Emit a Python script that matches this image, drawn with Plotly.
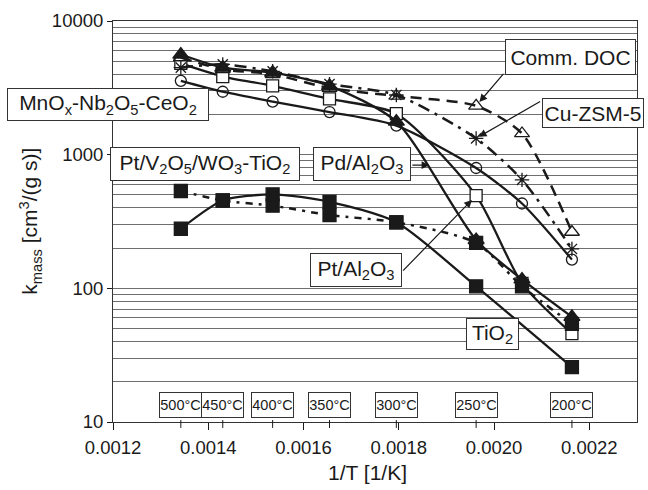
import math
import plotly.graph_objects as go

# 1/T positions of the measured temperatures [1/K]
inv_T = [0.0013424, 0.0014304, 0.0015351, 0.0016545, 0.0017948, 0.0019623, 0.0020586, 0.0021634]

# mass-specific rate constants k_mass [cm^3/(g s)]
mnox = [3565, 2957, 2495, 2084, 1651, 795, 431, 164]
comm_doc = [5332, 4349, 3996, 3150, 2749, 2319, 1441, 264]
cu_zsm5 = [4476, 4736, 4203, 3371, 2796, 1324, 648, 197]
pd_al2o3 = [5612, 4476, 4111, 3275, 1767, 230, 116.5, 61.1]
pt_al2o3 = [4817, 3842, 3275, 2612, 2025, 494, 109, 45.8]
pt_vwti = [535, 454, 415, 353, 312, 219, 103.5, 54.2]
tio2 = [279, 454, 505, 444, 312, 103.5, None, 25.7]

temp_labels = ["500°C", "450°C", "400°C", "350°C", "300°C", "250°C", "200°C"]
temp_x = [inv_T[i] for i in (0, 1, 2, 3, 4, 5, 7)]

x_ticks = [0.0012, 0.0014, 0.0016, 0.0018, 0.0020, 0.0022]
y_ticks = [10, 100, 1000, 10000]
y_ticktext = ["10", "100", "1000", "10000"]
y_minor = [m * d for d in (10, 100, 1000) for m in range(2, 10)]

W, H = 648, 490
L, R, T, B = 113, 10, 16, 68
PW, PH = W - L - R, H - T - B
FONT = "Liberation Sans, Arial, sans-serif"
INK = "#1a1a1a"


def paper(px, py):
    return (px - L) / PW, (T + PH - py) / PH


fig = go.Figure()


def add_series(name, y, symbol, size, fill, dash, lw=2.3, mlw=1.3):
    fig.add_trace(go.Scatter(
        x=inv_T, y=y, name=name, mode="lines+markers", connectgaps=True,
        line=dict(color=INK, width=lw, dash=dash, shape="spline", smoothing=0.7),
        marker=dict(symbol=symbol, size=size, color=fill,
                    line=dict(color=INK, width=mlw)),
        showlegend=False,
    ))


add_series("MnOx-Nb2O5-CeO2", mnox, "circle-open", 11, INK, "solid")
add_series("Pt/Al2O3", pt_al2o3, "square", 12, "white", "solid")
add_series("Comm. DOC", comm_doc, "triangle-up-open", 13, INK, "11px,7px", lw=2.5)
add_series("Cu-ZSM-5", cu_zsm5, "asterisk-open", 12, INK, "12px,6px,3px,6px", lw=2.5)
add_series("Pt/V2O5/WO3-TiO2", pt_vwti, "square", 13, INK, "7px,6px,3px,6px", lw=2.5)
add_series("TiO2", tio2, "square", 13, INK, "solid")
add_series("Pd/Al2O3", pd_al2o3, "triangle-up", 14, INK, "solid")

annotations = []


def box(text, cx, cy, w, h, size=21):
    px_, py_ = paper(cx, cy)
    annotations.append(dict(
        text=text, xref="paper", yref="paper", x=px_, y=py_,
        xanchor="center", yanchor="middle", showarrow=False,
        width=w - 2, height=h - 2, borderpad=0, borderwidth=1,
        bordercolor="#333", bgcolor="white",
        font=dict(family=FONT, size=size, color=INK),
    ))


ARROW = dict(showarrow=True, arrowhead=2, arrowsize=1.3, arrowwidth=1.2,
             arrowcolor=INK, font=dict(size=1, color="rgba(0,0,0,0)"))


def arrow_to_point(xv, yv, ax, ay, standoff=0):
    # annotation positions on a log axis are given in log10 units
    annotations.append(dict(text=".", x=xv, y=math.log10(yv), xref="x", yref="y",
                            ax=ax, ay=ay, standoff=standoff, **ARROW))


def arrow_px(hx, hy, tx, ty):
    px_, py_ = paper(hx, hy)
    annotations.append(dict(text=".", x=px_, y=py_, xref="paper", yref="paper",
                            ax=tx - hx, ay=ty - hy, **ARROW))


# catalyst labels
box("MnO<sub>x</sub>-Nb<sub>2</sub>O<sub>5</sub>-CeO<sub>2</sub>", 108, 100.5, 202, 33)
box("Pt/V<sub>2</sub>O<sub>5</sub>/WO<sub>3</sub>-TiO<sub>2</sub>", 205, 161, 190, 34)
box("Pd/Al<sub>2</sub>O<sub>3</sub>", 362, 161, 98, 34)
box("Comm. DOC", 571.5, 52, 131, 36)
box("Cu-ZSM-5", 594, 109, 102, 30)
box("Pt/Al<sub>2</sub>O<sub>3</sub>", 356, 268, 92, 34)
box("TiO<sub>2</sub>", 493.5, 333, 53, 32)

# pointers from labels to curves
arrow_to_point(inv_T[5], comm_doc[5], 29, -34, standoff=5)
arrow_to_point(inv_T[5], cu_zsm5[5], 66, -38, standoff=3)
arrow_to_point(inv_T[5], pt_al2o3[5], -75, 77, standoff=6)
arrow_px(430, 162, 411, 162)

# temperature labels along the x axis
_, ty = paper(0, 405)
for lab, xv in zip(temp_labels, temp_x):
    annotations.append(dict(
        text=lab, x=xv, xref="x", y=ty, yref="paper", showarrow=False,
        xanchor="center", yanchor="middle", width=41, height=24,
        borderpad=0, borderwidth=1, bordercolor="#333", bgcolor="white",
        font=dict(family=FONT, size=14.5, color=INK),
    ))

shapes = [
    dict(type="line", xref="x", yref="paper", x0=xv, x1=xv,
         y0=2 / PH, y1=-6 / PH, line=dict(color=INK, width=1))
    for xv in temp_x
]

# axis titles
ax_, ay_ = paper(368, 473)
annotations.append(dict(text="1/T [1/K]", xref="paper", yref="paper", x=ax_, y=ay_,
                        showarrow=False, xanchor="center", yanchor="middle",
                        font=dict(family=FONT, size=21, color=INK)))
ax_, ay_ = paper(30, 219)
annotations.append(dict(text="k<sub>mass</sub> [cm<sup>3</sup>/(g s)]", xref="paper",
                        yref="paper", x=ax_, y=ay_, textangle=-90, showarrow=False,
                        xanchor="center", yanchor="middle",
                        font=dict(family=FONT, size=21, color=INK)))

fig.update_layout(
    width=W, height=H, margin=dict(l=L, r=R, t=T, b=B),
    paper_bgcolor="white", plot_bgcolor="white",
    font=dict(family=FONT, size=18.5, color=INK),
    annotations=annotations, shapes=shapes,
    xaxis=dict(range=[0.0012, 0.0023], tickvals=x_ticks, tickformat=".4f",
               ticks="outside", ticklen=7, tickcolor=INK, showgrid=False,
               showline=True, linecolor="#333", linewidth=1, mirror=True,
               zeroline=False, ticklabelstandoff=2),
    yaxis=dict(type="log", range=[1, 4], tickvals=y_ticks, ticktext=y_ticktext,
               ticks="outside", ticklen=5, tickcolor=INK,
               showgrid=True, gridcolor="#6e6e6e", gridwidth=1.2,
               minor=dict(tickvals=y_minor, showgrid=True, gridcolor="#6e6e6e",
                          gridwidth=1.2, ticks=""),
               showline=True, linecolor="#333", linewidth=1, mirror=True,
               zeroline=False),
)

fig.write_html("out.html")
